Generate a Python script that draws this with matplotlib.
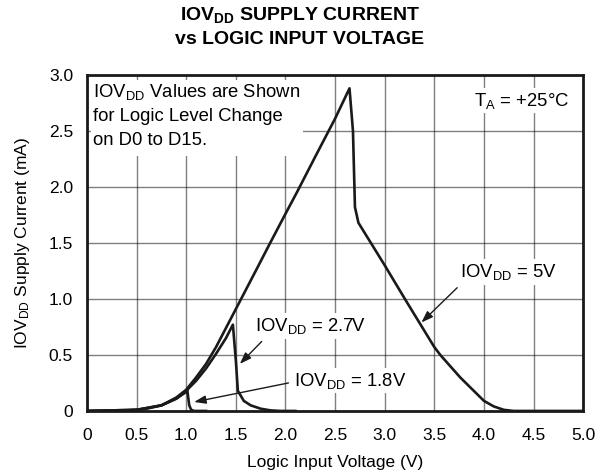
import matplotlib.pyplot as plt
from matplotlib.patches import Rectangle

plt.rcParams['font.family'] = ['Liberation Sans', 'DejaVu Sans']
plt.rcParams['mathtext.fontset'] = 'custom'
plt.rcParams['mathtext.rm'] = 'Liberation Sans'
plt.rcParams['mathtext.it'] = 'Liberation Sans'
plt.rcParams['mathtext.bf'] = 'Liberation Sans:bold'

# IOVDD = 5V
v_5 = [0, 0.3, 0.5, 0.6, 0.75, 0.9, 1.0, 1.1, 1.2, 1.3, 1.4, 1.5, 1.7, 1.84, 2.0, 2.12,
       2.3, 2.5, 2.645, 2.68, 2.70, 2.735, 3.0, 3.21, 3.5, 3.56, 3.76, 4.0, 4.1, 4.2, 4.3, 5.0]
i_5 = [0, 0, 0.01, 0.02, 0.05, 0.12, 0.19, 0.30, 0.42, 0.57, 0.74, 0.91, 1.25, 1.49, 1.76, 1.96,
       2.27, 2.61, 2.88, 2.5, 1.82, 1.68, 1.30, 0.99, 0.57, 0.5, 0.30, 0.09, 0.04, 0.01, 0, 0]

# IOVDD = 2.7V
v_27 = [0, 0.5, 0.75, 0.9, 1.0, 1.1, 1.2, 1.3, 1.4, 1.47, 1.50, 1.52, 1.58, 1.65, 1.75, 1.85, 1.95, 2.1]
i_27 = [0, 0.01, 0.05, 0.11, 0.18, 0.27, 0.38, 0.51, 0.65, 0.77, 0.45, 0.18, 0.09, 0.05, 0.02, 0.005, 0, 0]

# IOVDD = 1.8V
v_18 = [0, 0.5, 0.75, 0.9, 1.0, 1.01, 1.03, 1.05, 1.08, 1.2]
i_18 = [0, 0.01, 0.05, 0.11, 0.17, 0.19, 0.05, 0.01, 0, 0]

x_ticks = [0, 0.5, 1.0, 1.5, 2.0, 2.5, 3.0, 3.5, 4.0, 4.5, 5.0]
x_labels = ['0', '0.5', '1.0', '1.5', '2.0', '2.5', '3.0', '3.5', '4.0', '4.5', '5.0']
y_ticks = [0, 0.5, 1.0, 1.5, 2.0, 2.5, 3.0]
y_labels = ['0', '0.5', '1.0', '1.5', '2.0', '2.5', '3.0']

fig = plt.figure(figsize=(6, 4.74), dpi=100)
ax = fig.add_axes([0.145, 0.133, 0.827, 0.709])

ax.set_xlim(0, 5.0)
ax.set_ylim(0, 3.0)
ax.set_xticks(x_ticks)
ax.set_xticklabels(x_labels)
ax.set_yticks(y_ticks)
ax.set_yticklabels(y_labels)
ax.tick_params(length=0, labelsize=12.5)
ax.tick_params(axis='x', pad=12)
ax.tick_params(axis='y', pad=10)
ax.grid(True, which='major', axis='both', color='black', linewidth=1.0, alpha=0.5)

ax.plot(v_5, i_5, color='#1a1a1a', lw=1.9, zorder=3)
ax.plot(v_27, i_27, color='#1a1a1a', lw=1.9, zorder=3)
ax.plot(v_18, i_18, color='#1a1a1a', lw=1.9, zorder=3)

for s in ax.spines.values():
    s.set_linewidth(2.0)
    s.set_color('#1a1a1a')

ax.set_xlabel('Logic Input Voltage (V)', fontsize=12.5, labelpad=9)
ax.set_ylabel('IOV$_{\\mathrm{DD}}$ Supply Current (mA)', fontsize=12.5, labelpad=12)
fig.suptitle('IOV$_{\\mathbf{DD}}$ SUPPLY CURRENT\nvs LOGIC INPUT VOLTAGE',
             fontsize=14, fontweight='bold', y=0.99, linespacing=1.5)

# note box in the upper left corner, on top of the grid
ax.add_patch(Rectangle((0.04, 2.28), 2.14, 0.67, facecolor='white', edgecolor='none', zorder=2.7))
ax.text(0.06, 2.85, 'IOV$_{\\mathrm{DD}}$ Values are Shown', fontsize=13.3, va='center', zorder=4)
ax.text(0.06, 2.625, 'for Logic Level Change', fontsize=13.3, va='center', zorder=4)
ax.text(0.06, 2.41, 'on D0 to D15.', fontsize=13.3, va='center', zorder=4)

box = dict(facecolor='white', edgecolor='none', pad=2)
ax.text(3.90, 2.77, 'T$_{\\mathrm{A}}$ = +25°C', fontsize=13.3, va='center', bbox=box, zorder=4)
ax.text(3.76, 1.24, 'IOV$_{\\mathrm{DD}}$ = 5V', fontsize=13.3, va='center', bbox=box, zorder=4)
ax.text(1.69, 0.76, 'IOV$_{\\mathrm{DD}}$ = 2.7V', fontsize=13.3, va='center', bbox=box, zorder=4)
ax.text(2.09, 0.27, 'IOV$_{\\mathrm{DD}}$ = 1.8V', fontsize=13.3, va='center', bbox=box, zorder=4)

arrow = dict(arrowstyle='-|>,head_length=0.7,head_width=0.25', color='#1a1a1a', lw=1.0,
             shrinkA=0, shrinkB=0)
ax.annotate('', xy=(3.37, 0.79), xytext=(3.73, 1.10), arrowprops=arrow, zorder=5)
ax.annotate('', xy=(1.54, 0.42), xytext=(1.76, 0.62), arrowprops=arrow, zorder=5)
ax.annotate('', xy=(1.08, 0.08), xytext=(2.03, 0.25), arrowprops=arrow, zorder=5)

fig.savefig('out.png', dpi=100)
